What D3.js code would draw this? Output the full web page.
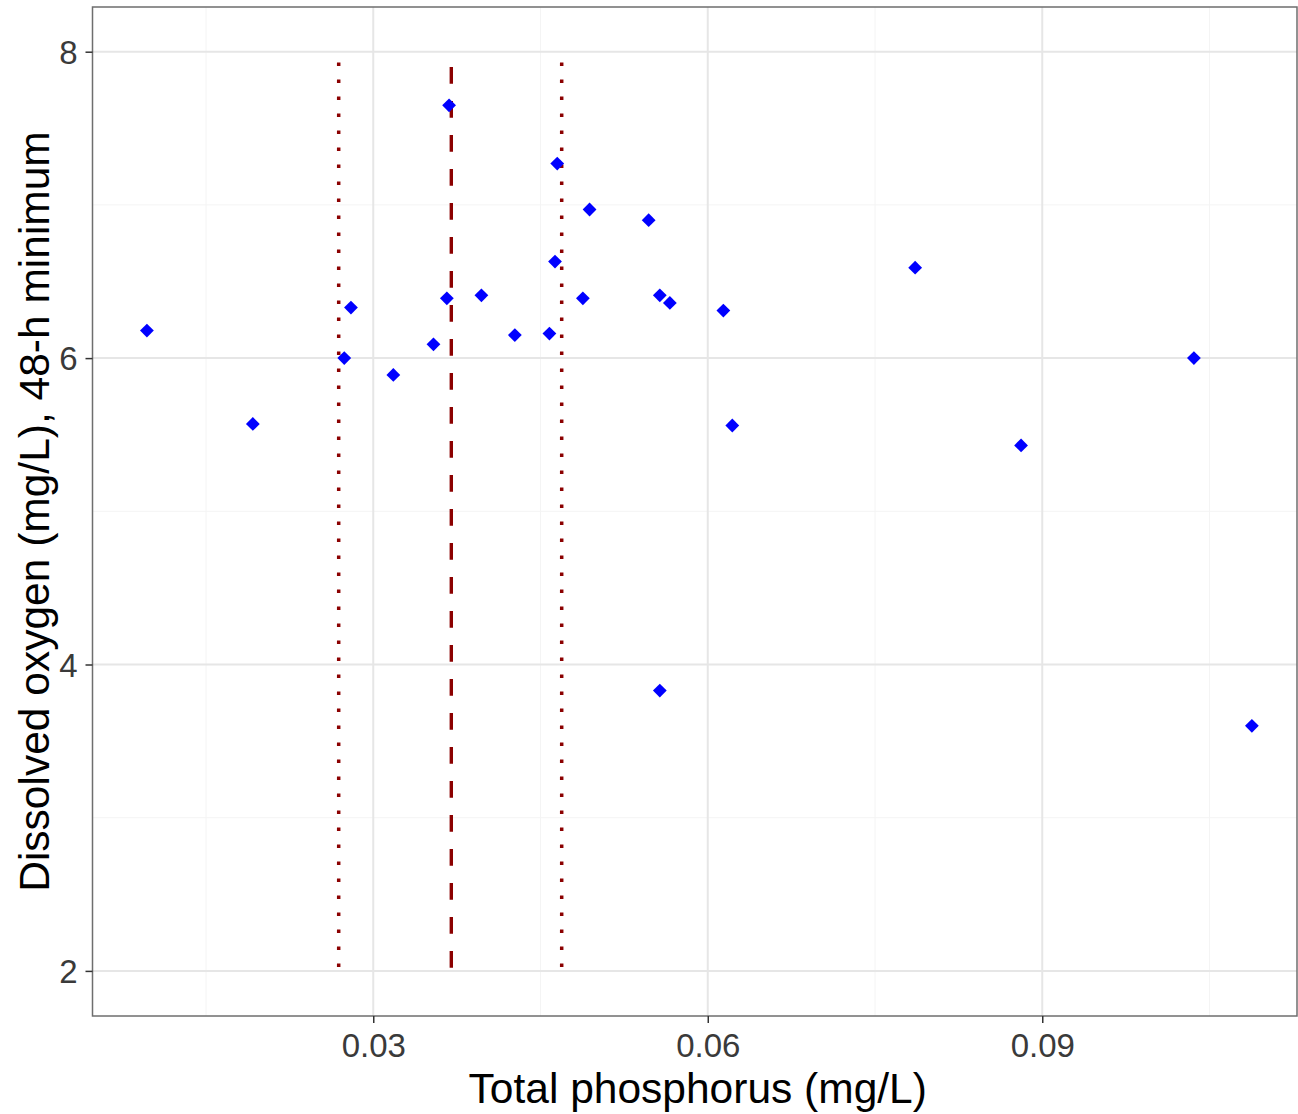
<!DOCTYPE html>
<html>
<head>
<meta charset="utf-8">
<script src="https://cdn.jsdelivr.net/npm/d3@7"></script>
<style>
  body { margin: 0; background: #fff; }
  svg text { font-family: "Liberation Sans", Arial, sans-serif; }
</style>
</head>
<body>
<div id="vis"></div>
<script>
// total phosphorus (mg/L) and 48-h minimum dissolved oxygen (mg/L)
var tp = [0.0097, 0.0192, 0.0274, 0.0280, 0.0318, 0.0354, 0.0366, 0.0368, 0.0397,
          0.0427, 0.0458, 0.0463, 0.0465, 0.0488, 0.0494, 0.0547, 0.0557, 0.0566,
          0.0557, 0.0614, 0.0622, 0.0786, 0.0881, 0.1036, 0.1088];
var dox = [6.18, 5.57, 6.00, 6.33, 5.89, 6.09, 6.39, 7.65, 6.41,
           6.15, 6.16, 6.63, 7.27, 6.39, 6.97, 6.90, 6.41, 6.36,
           3.83, 6.31, 5.56, 6.59, 5.43, 6.00, 3.60];

// threshold lines: lower bound, estimate, upper bound
var thresholds = [0.0269, 0.0370, 0.0469];
var thresholdKind = ['dotted', 'dashed', 'dotted'];
var lineTop = [7.93, 7.90, 7.93];
var lineBottom = 2;

var xTicks = [0.03, 0.06, 0.09];
var xMinor = [0.015, 0.045, 0.075, 0.105];
var yTicks = [2, 4, 6, 8];
var yMinor = [3, 5, 7];

var width = 1298, height = 1114;
var margin = {left: 92.5, top: 7, right: 1, bottom: 98};

var svg = d3.select('#vis')
    .append('svg')
        .attr('width', width)
        .attr('height', height);

var pw = width - margin.left - margin.right;
var ph = height - margin.top - margin.bottom;

var g = svg.append('g')
    .attr('transform', 'translate(' + margin.left + ',' + margin.top + ')');

var x_scale = d3.scaleLinear()
    .domain([0.00482, 0.00482 + pw / 11150])
    .range([0, pw]);

var y_scale = d3.scaleLinear()
    .domain([8 + 44.7 / 153.2, 8 + 44.7 / 153.2 - ph / 153.2])
    .range([0, ph]);

// grid
g.selectAll('.xminor').data(xMinor).enter().append('line')
    .attr('x1', function(d){ return x_scale(d); })
    .attr('x2', function(d){ return x_scale(d); })
    .attr('y1', 0).attr('y2', ph)
    .attr('stroke', '#f4f4f4').attr('stroke-width', 1);
g.selectAll('.yminor').data(yMinor).enter().append('line')
    .attr('y1', function(d){ return y_scale(d); })
    .attr('y2', function(d){ return y_scale(d); })
    .attr('x1', 0).attr('x2', pw)
    .attr('stroke', '#f4f4f4').attr('stroke-width', 1);
g.selectAll('.xmajor').data(xTicks).enter().append('line')
    .attr('x1', function(d){ return x_scale(d); })
    .attr('x2', function(d){ return x_scale(d); })
    .attr('y1', 0).attr('y2', ph)
    .attr('stroke', '#e6e6e6').attr('stroke-width', 2);
g.selectAll('.ymajor').data(yTicks).enter().append('line')
    .attr('y1', function(d){ return y_scale(d); })
    .attr('y2', function(d){ return y_scale(d); })
    .attr('x1', 0).attr('x2', pw)
    .attr('stroke', '#e6e6e6').attr('stroke-width', 2);

// threshold lines
g.selectAll('.thr').data(thresholds).enter().append('line')
    .attr('x1', function(d){ return x_scale(d); })
    .attr('x2', function(d){ return x_scale(d); })
    .attr('y1', function(d, i){ return y_scale(lineTop[i]); })
    .attr('y2', y_scale(lineBottom))
    .attr('stroke', '#8b0000')
    .attr('stroke-width', function(d, i){ return thresholdKind[i] == 'dashed' ? 3.4 : 3.5; })
    .attr('stroke-dasharray', function(d, i){ return thresholdKind[i] == 'dashed' ? '16.7,17.3' : '3.5,13.5'; });

// points
var diamond = d3.symbol().type(d3.symbolSquare).size(95);
g.selectAll('.dot').data(tp).enter().append('path')
    .attr('class', 'dot')
    .attr('d', diamond)
    .attr('fill', '#0000ff')
    .attr('transform', function(d, i){
        return 'translate(' + x_scale(d) + ',' + y_scale(dox[i]) + ') rotate(45)';
    });

// panel border
g.append('rect')
    .attr('x', 0).attr('y', 0)
    .attr('width', pw).attr('height', ph)
    .attr('fill', 'none')
    .attr('stroke', '#6e6e6e')
    .attr('stroke-width', 1.5);

// axes
var xAxis = g.append('g')
    .attr('transform', 'translate(0,' + ph + ')')
    .call(d3.axisBottom(x_scale).tickValues(xTicks).tickSize(7).tickPadding(11)
        .tickFormat(d3.format('.2f')));
var yAxis = g.append('g')
    .call(d3.axisLeft(y_scale).tickValues(yTicks).tickSize(7).tickPadding(8)
        .tickFormat(d3.format('d')));

[xAxis, yAxis].forEach(function(a){
    a.select('.domain').remove();
    a.selectAll('.tick line').attr('stroke', '#333').attr('stroke-width', 1.5);
    a.selectAll('.tick text')
        .attr('fill', '#3a3a3a')
        .style('font-size', '33px');
});
xAxis.selectAll('.tick text').attr('dy', '0.71em');
yAxis.selectAll('.tick text').attr('dy', '0.36em');

// titles
svg.append('text')
    .attr('x', margin.left + pw / 2 + 3)
    .attr('y', 1103)
    .attr('text-anchor', 'middle')
    .style('font-size', '42.5px')
    .attr('fill', '#000')
    .text('Total phosphorus (mg/L)');

svg.append('text')
    .attr('transform', 'translate(49,' + (margin.top + ph / 2) + ') rotate(-90)')
    .attr('text-anchor', 'middle')
    .style('font-size', '42.5px')
    .attr('fill', '#000')
    .text('Dissolved oxygen (mg/L), 48-h minimum');
</script>
</body>
</html>
